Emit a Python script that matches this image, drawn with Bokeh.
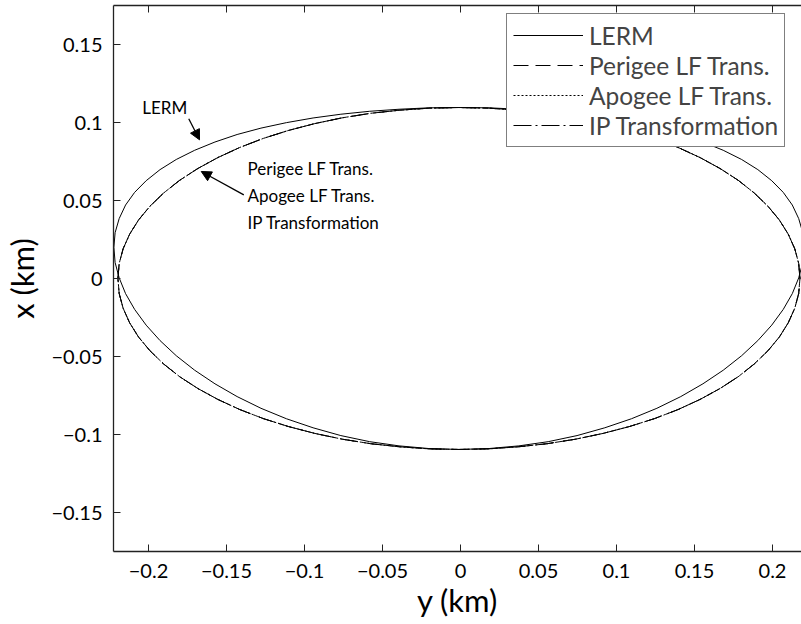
from bokeh.plotting import figure
from bokeh.models import (Range1d, LinearAxis, FixedTicker, CustomJSTickFormatter,
                          ColumnDataSource, Arrow, NormalHead)
from bokeh.core.properties import value
from bokeh.embed import file_html
from bokeh.resources import INLINE

# ---------------- data ----------------
# quarter-orbit samples (first quadrant), mirrored to build closed curves
center_y = -0.001
trans_half_y = [0.2186, 0.2178, 0.2153, 0.2111, 0.2054, 0.1981, 0.1893, 0.1791, 0.1674, 0.1546,
                0.1405, 0.1254, 0.1093, 0.0924, 0.0748, 0.0566, 0.0379, 0.0191, 0.0]
trans_half_x = [0.0, 0.0096, 0.0190, 0.0284, 0.0375, 0.0463, 0.0548, 0.0629, 0.0705, 0.0775,
                0.0840, 0.0898, 0.0949, 0.0993, 0.1030, 0.1059, 0.1079, 0.1092, 0.1096]
lerm_half_y = [0.2212, 0.2204, 0.2178, 0.2137, 0.2079, 0.2005, 0.1916, 0.1812, 0.1694, 0.1564,
               0.1422, 0.1269, 0.1106, 0.0935, 0.0757, 0.0572, 0.0384, 0.0193, 0.0]
lerm_top_x = [0.0200, 0.0294, 0.0384, 0.0471, 0.0552, 0.0627, 0.0698, 0.0763, 0.0822, 0.0875,
              0.0923, 0.0964, 0.0999, 0.1029, 0.1053, 0.1072, 0.1085, 0.1094, 0.1096]
lerm_bot_x = [0.0200, 0.0102, 0.0004, -0.0097, -0.0198, -0.0299, -0.0398, -0.0495, -0.0588, -0.0675,
              -0.0757, -0.0832, -0.0899, -0.0957, -0.1007, -0.1046, -0.1073, -0.1090, -0.1096]

x_ticks = [-0.2, -0.15, -0.1, -0.05, 0, 0.05, 0.1, 0.15, 0.2]
y_ticks = [-0.15, -0.1, -0.05, 0, 0.05, 0.1, 0.15]

series_names = ["LERM", "Perigee LF Trans.", "Apogee LF Trans.", "IP Transformation"]

annot_text = ["LERM", "Perigee LF Trans.", "Apogee LF Trans.", "IP Transformation"]
annot_x = [-0.2040, -0.1365, -0.1365, -0.1365]
annot_y = [0.1093, 0.0705, 0.0532, 0.0359]
arrow_x0 = [-0.1742, -0.1389]
arrow_y0 = [0.1024, 0.0536]
arrow_x1 = [-0.1673, -0.1662]
arrow_y1 = [0.0889, 0.0686]


def closed_curve(hy, top, bot):
    ys, xs = [], []
    n = len(hy)
    for i in range(n):                      # right end -> top
        ys.append(center_y + hy[i]); xs.append(top[i])
    for i in range(n - 2, -1, -1):          # top -> left end
        ys.append(center_y - hy[i]); xs.append(top[i])
    for i in range(1, n):                   # left end -> bottom
        ys.append(center_y - hy[i]); xs.append(bot[i])
    for i in range(n - 2, -1, -1):          # bottom -> right end
        ys.append(center_y + hy[i]); xs.append(bot[i])
    return ys, xs


lerm_y, lerm_x = closed_curve(lerm_half_y, lerm_top_x, lerm_bot_x)
tr_y, tr_x = closed_curve(trans_half_y, trans_half_x, [-v for v in trans_half_x])

FONT = "Lato"

p = figure(width=801, height=624,
           x_range=Range1d(-0.22244, 0.21859), y_range=Range1d(-0.175, 0.175),
           output_backend="svg", toolbar_location=None,
           min_border_left=113, min_border_right=0, min_border_top=5, min_border_bottom=73,
           background_fill_color="white", border_fill_color="white")
p.grid.visible = False
p.outline_line_color = None

fmt_code = "return (Math.round(tick*1000)/1000).toString().replace('-', '\\u2212');"

for ax, ticks in ((p.xaxis[0], x_ticks), (p.yaxis[0], y_ticks)):
    ax.ticker = FixedTicker(ticks=ticks)
    ax.formatter = CustomJSTickFormatter(code=fmt_code)
    ax.major_tick_in = 7
    ax.major_tick_out = 0
    ax.minor_tick_line_color = None
    ax.axis_line_color = "#222222"
    ax.axis_line_width = 1.3
    ax.major_tick_line_color = "#222222"
    ax.major_label_text_font = FONT
    ax.major_label_text_font_size = "20px"
    ax.major_label_text_color = "black"
    ax.axis_label_text_font = FONT
    ax.axis_label_text_font_size = "31px"
    ax.axis_label_text_font_style = "normal"
    ax.axis_label_text_color = "black"

p.xaxis[0].axis_label = "y (km)"
p.yaxis[0].axis_label = "x (km)"
p.xaxis[0].major_label_standoff = 12
p.xaxis[0].axis_label_standoff = 0
p.yaxis[0].major_label_standoff = 11
p.yaxis[0].axis_label_standoff = 7

top_axis = LinearAxis(ticker=FixedTicker(ticks=x_ticks), major_tick_in=7, major_tick_out=0,
                      minor_tick_line_color=None, axis_line_color="#222222", axis_line_width=1.3,
                      major_tick_line_color="#222222", major_label_text_font_size="1px",
                      major_label_text_color=None, major_label_standoff=0)
p.add_layout(top_axis, "above")

p.line(lerm_y, lerm_x, line_color="black", line_width=1, legend_label=series_names[0])
p.line(tr_y, tr_x, line_color="black", line_width=1, line_dash="15 7", legend_label=series_names[1])
p.line(tr_y, tr_x, line_color="black", line_width=1, line_dash="2 2", legend_label=series_names[2])
p.line(tr_y, tr_x, line_color="black", line_width=1, line_dash="18 4 2 4", legend_label=series_names[3])

src_t = ColumnDataSource(dict(x=annot_x, y=annot_y, t=annot_text))
p.text(x="x", y="y", text="t", source=src_t, text_font=value(FONT), text_font_size="17px",
       text_align="left", text_baseline="middle", text_color="black")

src_a = ColumnDataSource(dict(x0=arrow_x0, y0=arrow_y0, x1=arrow_x1, y1=arrow_y1))
p.add_layout(Arrow(end=NormalHead(size=10, fill_color="black", line_color="black", line_width=1),
                   x_start="x0", y_start="y0", x_end="x1", y_end="y1", source=src_a,
                   line_color="black", line_width=1.3))

lg = p.legend[0]
lg.location = (393, 404)
lg.border_line_color = "black"
lg.border_line_width = 1.3
lg.background_fill_alpha = 1
lg.label_text_font = FONT
lg.label_text_font_size = "24.5px"
lg.glyph_width = 70
lg.glyph_height = 30
lg.label_height = 30
lg.label_width = 180
lg.spacing = 0
lg.padding = 6
lg.label_standoff = 6
lg.margin = 0

open("out.html", "w", encoding="utf-8").write(file_html(p, INLINE))
